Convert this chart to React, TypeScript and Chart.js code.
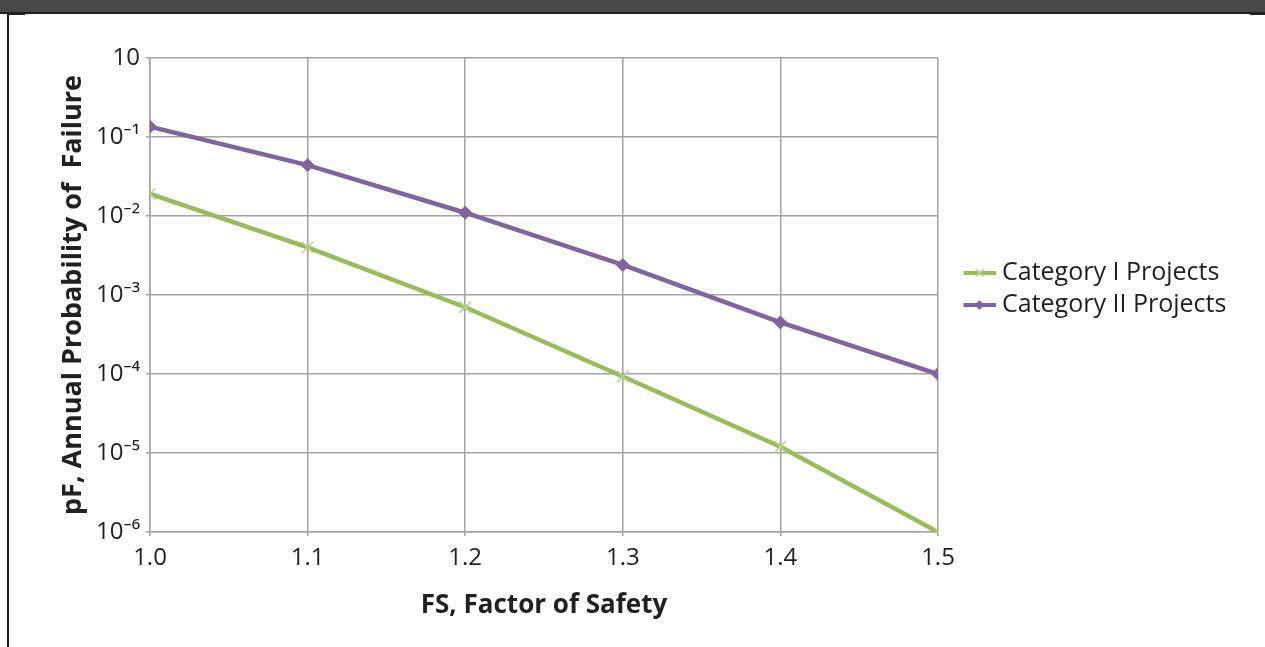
import React, { useEffect, useRef } from 'react';
import { Chart, registerables } from 'chart.js';

Chart.register(...registerables);

// ---- data ----
const fsValues = [1.0, 1.1, 1.2, 1.3, 1.4, 1.5];
const categoryI = [0.019, 0.004, 0.0007, 0.000093, 0.000012, 0.000001];
const categoryII = [0.135, 0.044, 0.011, 0.0024, 0.00045, 0.0001];
const seriesNames = ['Category I Projects', 'Category II Projects'];
const yTickValues = [0.000001, 0.00001, 0.0001, 0.001, 0.01, 0.1, 1];
const yTickLabels = ['10⁻⁶', '10⁻⁵', '10⁻⁴', '10⁻³', '10⁻²', '10⁻¹', '10'];
const xTickValues = [1.0, 1.1, 1.2, 1.3, 1.4, 1.5];
const xTickLabels = ['1.0', '1.1', '1.2', '1.3', '1.4', '1.5'];
const xTitle = 'FS, Factor of Safety';
const yTitle = 'pF, Annual Probability of  Failure';

const GREEN = '#9bbb59';
const GREEN_MARK = '#b9d490';
const PURPLE = '#8064a2';
const TEXT = '#231f20';
const GRID = '#a4a4a4';
const FONT = "'Open Sans', 'Noto Sans', sans-serif";
const LEGEND_SIZE = 25;

function makeLegendIcon(kind: 'cross' | 'diamond') {
  const c = document.createElement('canvas');
  c.width = 40;
  c.height = 14;
  const ctx = c.getContext('2d')!;
  ctx.lineCap = 'butt';
  ctx.strokeStyle = kind === 'cross' ? GREEN : PURPLE;
  ctx.lineWidth = 4;
  ctx.beginPath();
  ctx.moveTo(8, 7);
  ctx.lineTo(40, 7);
  ctx.stroke();
  if (kind === 'cross') {
    ctx.strokeStyle = GREEN_MARK;
    ctx.lineWidth = 1.5;
    ctx.beginPath();
    ctx.moveTo(20, 3); ctx.lineTo(28, 11);
    ctx.moveTo(28, 3); ctx.lineTo(20, 11);
    ctx.stroke();
  } else {
    ctx.fillStyle = PURPLE;
    ctx.beginPath();
    ctx.moveTo(24, 2); ctx.lineTo(29, 7); ctx.lineTo(24, 12); ctx.lineTo(19, 7);
    ctx.closePath();
    ctx.fill();
  }
  return c;
}

const legendShift = {
  id: 'legendShift',
  afterLayout(chart: any) {
    const l = chart.legend;
    if (!l) return;
    l.left += 16.5; l.right += 16.5;
    l.top -= 6; l.bottom -= 6;
  },
};

export default function App() {
  const ref = useRef<HTMLCanvasElement | null>(null);

  useEffect(() => {
    const canvas = ref.current!;
    const mctx = canvas.getContext('2d')!;
    mctx.font = `${LEGEND_SIZE}px ${FONT}`;
    const textW = Math.max(...seriesNames.map((s) => mctx.measureText(s).width));
    const padRight = Math.max(0, 1265 - 938 - (7 + 28 + LEGEND_SIZE / 2 + 10) - textW);

    const icons = [makeLegendIcon('cross'), makeLegendIcon('diamond')];

    const chart = new Chart(canvas, {
      type: 'line',
      data: {
        datasets: [
          {
            label: seriesNames[0],
            data: fsValues.map((x, i) => ({ x, y: categoryI[i] })),
            borderColor: GREEN,
            backgroundColor: GREEN,
            borderWidth: 4.5,
            pointStyle: 'crossRot',
            pointRadius: 8,
            pointBorderColor: GREEN_MARK,
            pointBorderWidth: 1.5,
            tension: 0,
          },
          {
            label: seriesNames[1],
            data: fsValues.map((x, i) => ({ x, y: categoryII[i] })),
            borderColor: PURPLE,
            backgroundColor: PURPLE,
            borderWidth: 4.5,
            pointStyle: 'rectRot',
            pointRadius: 6.5,
            pointBorderColor: PURPLE,
            pointBackgroundColor: PURPLE,
            pointBorderWidth: 1,
            tension: 0,
          },
        ],
      },
      options: {
        responsive: false,
        animation: false,
        layout: { padding: { left: 0, top: 58, right: padRight, bottom: 0 } },
        plugins: {
          tooltip: { enabled: false },
          legend: {
            position: 'right',
            fullSize: false,
            align: 'center',
            labels: {
              usePointStyle: true,
              pointStyleWidth: 28,
              padding: 7,
              color: TEXT,
              font: { family: FONT, size: LEGEND_SIZE },
              generateLabels: (ch: any) =>
                ch.data.datasets.map((d: any, i: number) => ({
                  text: d.label,
                  pointStyle: icons[i],
                  fillStyle: d.borderColor,
                  strokeStyle: d.borderColor,
                  lineWidth: 0,
                  hidden: false,
                  datasetIndex: i,
                  fontColor: TEXT,
                })),
            },
          },
        },
        scales: {
          x: {
            type: 'linear',
            min: 1.0,
            max: 1.5,
            afterBuildTicks: (s: any) => {
              s.ticks = xTickValues.map((v) => ({ value: v }));
            },
            afterFit: (s: any) => {
              s.height = 115;
            },
            ticks: {
              color: TEXT,
              font: { family: FONT, size: 24 },
              padding: 8,
              maxRotation: 0,
              callback: (v: any) => {
                const i = xTickValues.findIndex((t) => Math.abs(t - Number(v)) < 1e-6);
                return i >= 0 ? xTickLabels[i] : '';
              },
            },
            grid: { color: GRID, lineWidth: 1.5, tickLength: 4, drawTicks: true },
            border: { color: GRID, width: 1.5 },
            title: {
              display: true,
              text: xTitle,
              color: TEXT,
              font: { family: FONT, size: 26, weight: 'bold' },
              padding: { top: 0, bottom: 26 },
            },
          },
          y: {
            type: 'logarithmic',
            min: 0.000001,
            max: 1,
            afterBuildTicks: (s: any) => {
              s.ticks = yTickValues.map((v) => ({ value: v }));
            },
            afterFit: (s: any) => {
              s.width = 150;
            },
            ticks: {
              color: TEXT,
              font: { family: FONT, size: 24 },
              padding: 6,
              callback: (v: any) => {
                const i = yTickValues.findIndex((t) => Math.abs(Math.log10(t) - Math.log10(Number(v))) < 1e-6);
                return i >= 0 ? yTickLabels[i] : '';
              },
            },
            grid: { color: GRID, lineWidth: 1.5, tickLength: 4, drawTicks: true },
            border: { color: GRID, width: 1.5 },
            title: {
              display: true,
              text: yTitle,
              color: TEXT,
              font: { family: FONT, size: 27, weight: 'bold' },
              padding: { top: 57, bottom: 0 },
            },
          },
        },
      },
      plugins: [legendShift],
    } as any);

    return () => chart.destroy();
  }, []);

  return (
    <div
      style={{
        position: 'fixed',
        left: 0,
        top: 0,
        width: 1265,
        height: 647,
        background: '#ffffff',
        overflow: 'hidden',
      }}
    >
      <canvas
        ref={ref}
        width={1265}
        height={647}
        style={{ position: 'absolute', left: 0, top: 0, width: 1265, height: 647 }}
      />
      <div style={{ position: 'absolute', left: 0, top: 0, width: 1265, height: 13, background: '#474747' }} />
      <div style={{ position: 'absolute', left: 0, top: 12, width: 1265, height: 1.5, background: '#1f1f1f' }} />
      <div style={{ position: 'absolute', left: 7, top: 13, width: 18, height: 2, background: '#231f20' }} />
      <div style={{ position: 'absolute', left: 1250, top: 13, width: 15, height: 2, background: '#231f20' }} />
      <div style={{ position: 'absolute', left: 7, top: 13, width: 2, height: 634, background: '#231f20' }} />
    </div>
  );
}
